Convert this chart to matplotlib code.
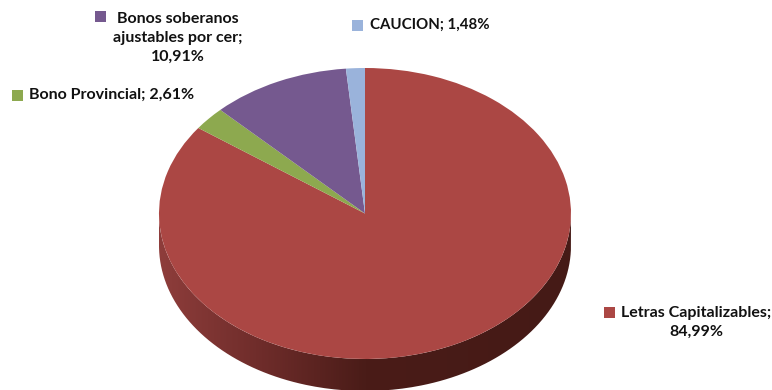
"""Pie chart with a fake 3D rim: portfolio composition."""
import numpy as np
import matplotlib
matplotlib.use("Agg")
import matplotlib.pyplot as plt
from matplotlib.colors import LinearSegmentedColormap
from matplotlib.patches import PathPatch, Rectangle
from matplotlib.path import Path

WIDTH, HEIGHT = 772, 390

# clockwise from 12 o'clock
names = ["Letras Capitalizables;\n", "Bono Provincial; ",
         "Bonos soberanos\najustables por cer;\n", "CAUCION; "]
values = [84.99, 2.61, 10.91, 1.48]
colors = ["#AB4744", "#8DA94F", "#75598F", "#9AB3DB"]

# pixel layout of the pie
CX, CY = 365, 213.5
RX, RY = 206, 145.5
DEPTH = 32 / RY

# key x/y, text x/y, font size
labels = [
    (609, 312, 696, 322.5, 11.5),
    (17, 95, 111.5, 95, 11.5),
    (100, 16, 178, 38, 11.5),
    (357, 25, 430, 25, 10.8),  # Lato capitals run wider than the original font
]
plt.rcParams["font.family"] = ["Lato", "DejaVu Sans"]

fig = plt.figure(figsize=(WIDTH / 100, HEIGHT / 100), dpi=100)
ax = fig.add_axes([0, 0, 1, 1])

# rim first, then the top face over it
theta = np.linspace(np.pi, 2 * np.pi, 200)
rim = np.column_stack([
    np.r_[np.cos(theta), np.cos(theta[::-1])],
    np.r_[np.sin(theta), np.sin(theta[::-1]) - DEPTH],
])
rim_cmap = LinearSegmentedColormap.from_list(
    "rim", [(0, "#8E3D3B"), (0.25, "#6E2C2A"), (0.5, "#4A1C18"), (1, "#451A16")])
img = ax.imshow(np.linspace(0, 1, 256)[None, :], cmap=rim_cmap, aspect="auto",
                extent=(-1, 1, -1 - DEPTH, 0), zorder=1)
img.set_clip_path(PathPatch(Path(rim), transform=ax.transData))

ax.pie(values, colors=colors, startangle=90, counterclock=False, radius=1,
       wedgeprops={"linewidth": 0, "zorder": 2})
ax.set_aspect("auto")
ax.set_xlim(-CX / RX, (WIDTH - CX) / RX)
ax.set_ylim((CY - HEIGHT) / RY, CY / RY)
ax.axis("off")

# labels in pixel coordinates
overlay = fig.add_axes([0, 0, 1, 1])
overlay.set_xlim(0, WIDTH)
overlay.set_ylim(HEIGHT, 0)
overlay.axis("off")
for name, val, col, (kx, ky, tx, ty, size) in zip(names, values, colors, labels):
    overlay.add_patch(Rectangle((kx - 5.5, ky - 5.5), 11, 11, color=col, lw=0))
    txt = name + f"{val:.2f}%".replace(".", ",")
    overlay.text(tx, ty, txt, ha="center", va="center", fontsize=size,
                 fontweight="bold", color="#111111", linespacing=1.42)

fig.savefig("out.png", dpi=100)
